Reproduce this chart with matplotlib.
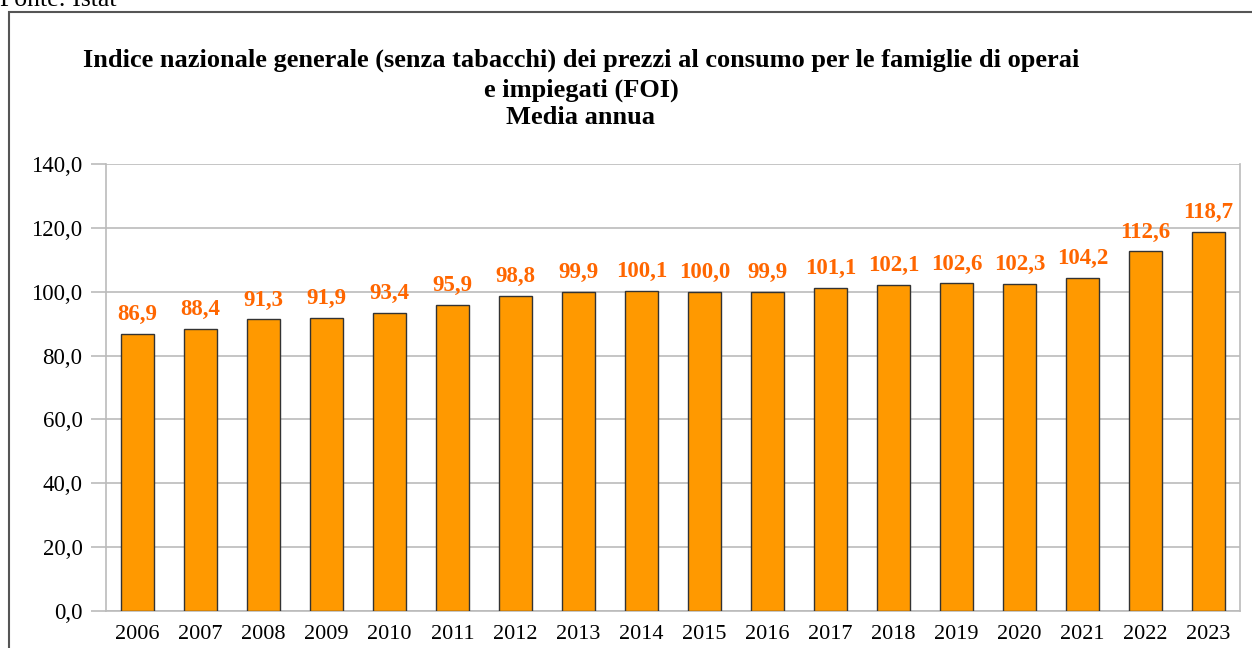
import matplotlib
matplotlib.use("Agg")
import matplotlib.pyplot as plt
from matplotlib.patches import Rectangle

years = ["2006", "2007", "2008", "2009", "2010", "2011", "2012", "2013", "2014",
         "2015", "2016", "2017", "2018", "2019", "2020", "2021", "2022", "2023"]
values = [86.9, 88.4, 91.3, 91.9, 93.4, 95.9, 98.8, 99.9, 100.1,
          100.0, 99.9, 101.1, 102.1, 102.6, 102.3, 104.2, 112.6, 118.7]
yticks = [0, 20, 40, 60, 80, 100, 120, 140]

plt.rcParams['font.family'] = ['Liberation Serif', 'DejaVu Serif']

fig = plt.figure(figsize=(12.52, 6.48), dpi=100)
ax = fig.add_axes([106/1252, 1 - 611/648, (1240 - 106)/1252, (611 - 164)/648])

x = list(range(len(years)))
ax.bar(x, values, width=0.51, color='#FF9900', edgecolor='#333333', linewidth=1.0, zorder=3)
for xi, v in zip(x, values):
    ax.text(xi, v + 2.8, f"{v:.1f}".replace('.', ','), ha='center', va='bottom',
            color='#FF6600', fontsize=16.5, fontweight='bold')

ax.set_xlim(-0.5, len(years) - 0.5)
ax.set_ylim(0, 140)
ax.set_yticks(yticks)
ax.set_yticklabels([f"{t:.1f}".replace('.', ',') for t in yticks], fontsize=16.5)
ax.set_xticks(x)
ax.set_xticklabels(years, fontsize=16)
ax.tick_params(axis='x', length=0, pad=10)
ax.tick_params(axis='y', length=11, color='#BBBBBB', width=1.2, pad=6)
ax.grid(axis='y', color='#BBBBBB', linewidth=1.2, zorder=0)
for s in ['left', 'right', 'bottom']:
    ax.spines[s].set_color('#BBBBBB')
    ax.spines[s].set_linewidth(1.2)
ax.spines['top'].set_visible(False)

fig.text(581/1252, 1 - 60/648, "Indice nazionale generale (senza tabacchi) dei prezzi al consumo per le famiglie di operai",
         ha='center', va='center', fontsize=19, fontweight='bold')
fig.text(581/1252, 1 - 90/648, "e impiegati (FOI)", ha='center', va='center', fontsize=19, fontweight='bold')
fig.text(581/1252, 1 - 118/648, "Media annua", ha='center', va='center', fontsize=19, fontweight='bold')

fig.text(0.0, 1 - 6/648, "Fonte: Istat", ha='left', va='baseline', fontsize=18.5)

fig.patches.append(Rectangle((9/1252, -0.1), 1.2, 1 - 12/648 + 0.1, transform=fig.transFigure,
                             fill=False, edgecolor='#555555', linewidth=1.5))

fig.savefig("out.png", dpi=100)
